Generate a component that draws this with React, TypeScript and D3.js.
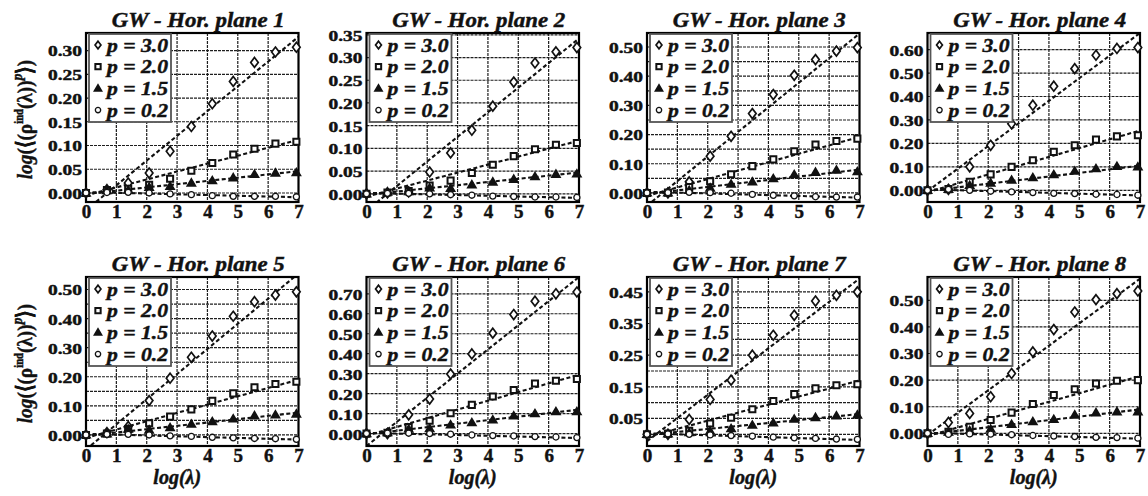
import { useEffect, useRef } from 'react'
import * as d3 from 'd3'

// x positions: log(lambda) for lambda = 1, 2, 4, ..., 1024
const LOG_LAMBDA = [0, 0.69, 1.39, 2.08, 2.77, 3.47, 4.16, 4.85, 5.55, 6.24, 6.93]
const X_TICKS = [0, 1, 2, 3, 4, 5, 6, 7]
const P_LABELS = ['p = 3.0', 'p = 2.0', 'p = 1.5', 'p = 0.2']
const MARKERS = ['diamond', 'square', 'triangle', 'circle']
const TITLES = [1, 2, 3, 4, 5, 6, 7, 8].map((n) => `GW - Hor. plane ${n}`)

// series order in each plane: p = 3.0, 2.0, 1.5, 0.2
const plane1 = [
  [0, 0.007, 0.021, 0.042, 0.088, 0.14, 0.188, 0.235, 0.275, 0.297, 0.307],
  [0, 0.006, 0.009, 0.0175, 0.03, 0.047, 0.063, 0.081, 0.093, 0.104, 0.108],
  [0, 0.005, 0.006, 0.012, 0.014, 0.021, 0.026, 0.032, 0.039, 0.042, 0.043],
  [0, 0.001, 0.0015, 0, -0.002, -0.0035, -0.0056, -0.007, -0.007, -0.007, -0.008],
]
const plane2 = [
  [0, 0.002, 0.004, 0.048, 0.09, 0.14, 0.193, 0.246, 0.288, 0.3125, 0.322],
  [0, 0.003, 0.006, 0.018, 0.029, 0.046, 0.064, 0.083, 0.098, 0.108, 0.112],
  [0, 0.004, 0.005, 0.013, 0.012, 0.02, 0.026, 0.032, 0.038, 0.043, 0.044],
  [0, 0.001, 0.001, 0, -0.002, -0.003, -0.005, -0.006, -0.007, -0.007, -0.008],
]
const plane3 = [
  [0, 0, 0.038, 0.126, 0.194, 0.272, 0.337, 0.403, 0.457, 0.486, 0.498],
  [0, 0.001, 0.02, 0.04, 0.064, 0.092, 0.115, 0.143, 0.166, 0.178, 0.186],
  [0, 0, 0.009, 0.017, 0.03, 0.038, 0.049, 0.063, 0.071, 0.078, 0.073],
  [0, 0.001, 0.002, 0.001, -0.001, -0.005, -0.008, -0.01, -0.013, -0.014, -0.014],
]
const plane4 = [
  [0, 0.004, 0.1, 0.192, 0.284, 0.363, 0.444, 0.519, 0.576, 0.605, 0.609],
  [0, 0.005, 0.036, 0.068, 0.1, 0.128, 0.164, 0.192, 0.216, 0.23, 0.235],
  [0, 0.004, 0.021, 0.031, 0.043, 0.054, 0.067, 0.082, 0.092, 0.102, 0.1],
  [0, 0.004, 0, -0.004, -0.007, -0.01, -0.013, -0.014, -0.017, -0.018, -0.021],
]
const plane5 = [
  [0, 0.008, 0.029, 0.118, 0.195, 0.267, 0.34, 0.408, 0.458, 0.481, 0.492],
  [0, 0.005, 0.02, 0.04, 0.063, 0.088, 0.117, 0.143, 0.164, 0.175, 0.183],
  [0, 0.004, 0.02, 0.017, 0.025, 0.037, 0.046, 0.055, 0.066, 0.069, 0.072],
  [0, 0.002, 0.002, 0, -0.003, -0.005, -0.008, -0.01, -0.012, -0.013, -0.015],
]
const plane6 = [
  [0, 0, 0.094, 0.173, 0.298, 0.399, 0.503, 0.596, 0.663, 0.7, 0.709],
  [0, 0.004, 0.033, 0.064, 0.102, 0.144, 0.186, 0.218, 0.251, 0.265, 0.273],
  [0, 0.005, 0.022, 0.025, 0.044, 0.055, 0.069, 0.089, 0.1, 0.11, 0.11],
  [0, 0.003, 0.002, 0, -0.003, -0.007, -0.01, -0.012, -0.015, -0.017, -0.02],
]
const plane7 = [
  [0, 0, 0.047, 0.11, 0.171, 0.25, 0.313, 0.376, 0.421, 0.439, 0.45],
  [0, 0.002, 0.011, 0.034, 0.052, 0.079, 0.105, 0.127, 0.145, 0.155, 0.158],
  [0, 0.001, 0.005, 0.01, 0.018, 0.029, 0.036, 0.048, 0.053, 0.058, 0.061],
  [0, 0.001, 0, -0.002, -0.004, -0.006, -0.009, -0.011, -0.013, -0.015, -0.016],
]
const plane8 = [
  [0, 0.041, 0.075, 0.1375, 0.225, 0.306, 0.39, 0.456, 0.5025, 0.525, 0.535],
  [0, 0.006, 0.025, 0.05, 0.078, 0.11, 0.144, 0.166, 0.1875, 0.1975, 0.2],
  [0, 0.005, 0.01, 0.016, 0.034, 0.044, 0.0525, 0.069, 0.0775, 0.081, 0.081],
  [0, -0.004, -0.002, -0.003, -0.005, -0.008, -0.01, -0.012, -0.015, -0.016, -0.018],
]

// fitted lines: value at log(lambda) = 0 and at 7
const fit1 = [[-0.036, 0.329], [-0.005, 0.112], [-0.002, 0.046], [0.002, -0.009]]
const fit2 = [[-0.037, 0.342], [-0.006, 0.117], [-0.002, 0.047], [0.002, -0.009]]
const fit3 = [[-0.0435, 0.546], [-0.01, 0.192], [-0.003, 0.08], [0.004, -0.016]]
const fit4 = [[-0.004, 0.671], [-0.008, 0.255], [-0.003, 0.105], [0.004, -0.022]]
const fit5 = [[-0.05, 0.555], [-0.01, 0.19], [-0.003, 0.077], [0.004, -0.016]]
const fit6 = [[-0.062, 0.784], [-0.01, 0.295], [-0.003, 0.12], [0.004, -0.022]]
const fit7 = [[-0.022, 0.492], [-0.008, 0.17], [-0.002, 0.064], [0.003, -0.018]]
const fit8 = [[-0.006, 0.581], [-0.01, 0.215], [-0.004, 0.09], [0.002, -0.02]]

const PLANES = [plane1, plane2, plane3, plane4, plane5, plane6, plane7, plane8]
const FITS = [fit1, fit2, fit3, fit4, fit5, fit6, fit7, fit8]

const Y_DOMAINS = [
  [-0.019, 0.337], [-0.018, 0.354], [-0.031, 0.548], [-0.05, 0.671],
  [-0.038, 0.543], [-0.062, 0.784], [-0.037, 0.497], [-0.0475, 0.5875],
]
const Y_TICKS = [
  [0, 0.05, 0.1, 0.15, 0.2, 0.25, 0.3],
  [0, 0.05, 0.1, 0.15, 0.2, 0.25, 0.3, 0.35],
  [0, 0.1, 0.2, 0.3, 0.4, 0.5],
  [0, 0.1, 0.2, 0.3, 0.4, 0.5, 0.6],
  [0, 0.1, 0.2, 0.3, 0.4, 0.5],
  [0, 0.1, 0.2, 0.3, 0.4, 0.5, 0.6, 0.7],
  [0.05, 0.15, 0.25, 0.35, 0.45],
  [0, 0.1, 0.2, 0.3, 0.4, 0.5],
]
const GRID_STEP = [0.05, 0.05, 0.05, 0.1, 0.05, 0.1, 0.05, 0.1]

const COL_X = [86, 366.5, 647, 927.5]
const ROW_Y = [33, 277]
const PLOT_W = 212.5
const PLOT_H = 169
const SERIF = '"Liberation Serif", "Times New Roman", serif'
const INK = '#111'

function markerPath(type, s) {
  if (type === 'diamond') {
    const w = s * 0.42
    const h = s * 0.55
    return `M0,${-h}L${w},0L0,${h}L${-w},0Z`
  }
  if (type === 'square') {
    const a = s * 0.38
    return `M${-a},${-a}H${a}V${a}H${-a}Z`
  }
  if (type === 'triangle') {
    const b = s * 0.5
    return `M0,${-s * 0.5}L${b},${s * 0.35}L${-b},${s * 0.35}Z`
  }
  const r = s * 0.38
  return `M${r},0A${r},${r} 0 1 1 ${-r},0A${r},${r} 0 1 1 ${r},0Z`
}

function styleMarker(sel, type) {
  sel
    .attr('fill', type === 'triangle' ? INK : '#fff')
    .attr('stroke', INK)
    .attr('stroke-width', type === 'square' ? 2 : type === 'circle' ? 1.3 : 1.7)
}

// heavier look for the scanned bold type
function boldText(sel, size, italic = false) {
  sel
    .attr('font-family', SERIF)
    .attr('font-size', size)
    .attr('font-weight', 'bold')
    .attr('font-style', italic ? 'italic' : 'normal')
    .attr('fill', INK)
    .attr('stroke', INK)
    .attr('stroke-width', 0.45)
}

function App() {
  const ref = useRef(null)

  useEffect(() => {
    const svg = d3.select(ref.current)
    svg.selectAll('*').remove()

    PLANES.forEach((series, i) => {
      const row = Math.floor(i / 4)
      const left = COL_X[i % 4]
      const top = ROW_Y[row]
      const x = d3.scaleLinear().domain([0, 7]).range([left, left + PLOT_W])
      const y = d3.scaleLinear().domain(Y_DOMAINS[i]).range([top + PLOT_H, top])
      const g = svg.append('g')

      g.append('clipPath')
        .attr('id', `clip-${i}`)
        .append('rect')
        .attr('x', left)
        .attr('y', top)
        .attr('width', PLOT_W)
        .attr('height', PLOT_H)

      // grid
      const gridVals = d3.range(0, Y_DOMAINS[i][1], GRID_STEP[i]).map((v) => +v.toFixed(3))
      const grid = g
        .append('g')
        .attr('stroke', '#1e1e1e')
        .attr('stroke-width', 1.2)
        .attr('stroke-dasharray', '3,1')
      grid
        .selectAll('line.v')
        .data(X_TICKS.slice(1, -1))
        .join('line')
        .attr('x1', (d) => x(d))
        .attr('x2', (d) => x(d))
        .attr('y1', top)
        .attr('y2', top + PLOT_H)
      grid
        .selectAll('line.h')
        .data(gridVals)
        .join('line')
        .attr('x1', left)
        .attr('x2', left + PLOT_W)
        .attr('y1', (d) => y(d))
        .attr('y2', (d) => y(d))

      // fitted dashed lines
      const line = d3
        .line()
        .x((d) => x(d[0]))
        .y((d) => y(d[1]))
      g.append('g')
        .attr('clip-path', `url(#clip-${i})`)
        .selectAll('path')
        .data(FITS[i])
        .join('path')
        .attr('d', (f) => line([[0, f[0]], [7, f[1]]]))
        .attr('fill', 'none')
        .attr('stroke', '#111')
        .attr('stroke-width', 2.1)
        .attr('stroke-dasharray', '4,2.5')

      // frame
      g.append('rect')
        .attr('x', left)
        .attr('y', top)
        .attr('width', PLOT_W)
        .attr('height', PLOT_H)
        .attr('fill', 'none')
        .attr('stroke', '#000')
        .attr('stroke-width', 2.2)

      // markers
      series.forEach((vals, s) => {
        const type = MARKERS[s]
        g.append('g')
          .selectAll('path')
          .data(LOG_LAMBDA.map((lx, k) => [lx, vals[k]]))
          .join('path')
          .attr('transform', (d) => `translate(${x(d[0])},${y(d[1])})`)
          .attr('d', markerPath(type, type === 'diamond' ? 9 : 8))
          .call(styleMarker, type)
      })

      // axes
      const yAxis = g
        .append('g')
        .attr('transform', `translate(${left},0)`)
        .call(d3.axisLeft(y).tickValues(Y_TICKS[i]).tickFormat(d3.format('.2f')).tickSize(0).tickPadding(4))
      yAxis.select('.domain').remove()
      yAxis
        .selectAll('text')
        .call(boldText, 15)
        .attr('dy', '0.36em')
        .attr('textLength', 34)
        .attr('lengthAdjust', 'spacingAndGlyphs')

      const xAxis = g
        .append('g')
        .attr('transform', `translate(0,${top + PLOT_H})`)
        .call(d3.axisBottom(x).tickValues(X_TICKS).tickFormat(d3.format('d')).tickSize(0))
      xAxis.select('.domain').remove()
      xAxis.selectAll('text').attr('y', 16).attr('dy', 0).call(boldText, 19)

      // title
      g.append('text')
        .attr('x', left + PLOT_W / 2 + 6)
        .attr('y', top - 6.5)
        .attr('text-anchor', 'middle')
        .call(boldText, 21, true)
        .attr('textLength', 173)
        .attr('lengthAdjust', 'spacingAndGlyphs')
        .text(TITLES[i])

      // legend
      const lg = g.append('g').attr('transform', `translate(${left + 3},${top + 1})`)
      lg.append('rect')
        .attr('width', 82)
        .attr('height', 88)
        .attr('fill', '#fff')
        .attr('stroke', '#555')
        .attr('stroke-width', 1.8)
      P_LABELS.forEach((label, s) => {
        const cy = 11 + s * 21.7
        lg.append('path')
          .attr('transform', `translate(9,${cy})`)
          .attr('d', markerPath(MARKERS[s], 7))
          .call(styleMarker, MARKERS[s])
        lg.append('text')
          .attr('x', 18)
          .attr('y', cy + 6.5)
          .call(boldText, 19, true)
          .attr('textLength', 61)
          .attr('lengthAdjust', 'spacingAndGlyphs')
          .text(label)
      })

      // x label on bottom row
      if (row === 1) {
        g.append('text')
          .attr('x', left + PLOT_W / 2 + (i % 4 === 0 ? -15 : 0))
          .attr('y', 484)
          .attr('text-anchor', 'middle')
          .call(boldText, 20, true)
          .text('log(λ)')
      }

      // y label on first column
      if (i % 4 === 0) {
        const t = g
          .append('text')
          .attr('transform', `translate(32,${top + PLOT_H / 2 + 2}) rotate(-90) scale(0.88,1)`)
          .attr('text-anchor', 'middle')
          .call(boldText, 22)
        t.append('tspan').attr('font-style', 'italic').text('log')
        t.append('tspan').text('(⟨(ρ')
        t.append('tspan').attr('font-size', 12).attr('dy', -9).text('ind')
        t.append('tspan').attr('dy', 9).text('(λ))')
        t.append('tspan').attr('font-size', 15).attr('font-style', 'italic').attr('dy', -10).text('p')
        t.append('tspan').attr('dy', 10).text('⟩)')
      }
    })
  }, [])

  return (
    <svg
      ref={ref}
      width={1148}
      height={496}
      style={{ position: 'absolute', top: 0, left: 0, background: '#fff' }}
    />
  )
}

export default App
